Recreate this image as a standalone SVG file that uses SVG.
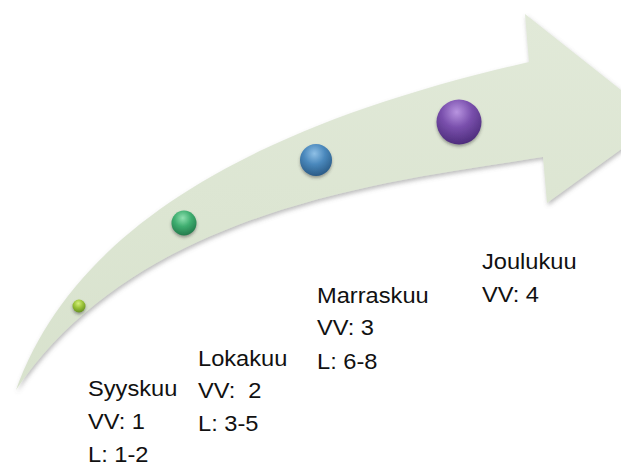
<svg xmlns="http://www.w3.org/2000/svg" width="621" height="466" viewBox="0 0 621 466">
  <style>
    .lbl { font-family: "Liberation Sans", Arial, sans-serif; font-size: 21.5px; fill: #111; white-space: pre; }
  </style>
  <defs>
    <linearGradient id="arrowFill" x1="0" y1="0" x2="0" y2="1">
      <stop offset="0" stop-color="#e1e9d8"/>
      <stop offset="1" stop-color="#d8e2cd"/>
    </linearGradient>
    <filter id="arrowShadow" x="-10%" y="-10%" width="120%" height="130%">
      <feDropShadow dx="1" dy="2.5" stdDeviation="2" flood-color="#6b6b6b" flood-opacity="0.45"/>
    </filter>
    <filter id="ballShadow" x="-50%" y="-50%" width="200%" height="220%">
      <feDropShadow dx="0" dy="2" stdDeviation="1.6" flood-color="#3a3a3a" flood-opacity="0.45"/>
    </filter>
    <radialGradient id="gYellow" cx="0.45" cy="0.3" r="0.75">
      <stop offset="0" stop-color="#d4ef7c"/>
      <stop offset="0.45" stop-color="#9cc43a"/>
      <stop offset="1" stop-color="#5f8a1c"/>
    </radialGradient>
    <radialGradient id="gGreen" cx="0.45" cy="0.3" r="0.75">
      <stop offset="0" stop-color="#8fe0b0"/>
      <stop offset="0.45" stop-color="#3fae70"/>
      <stop offset="1" stop-color="#1f7447"/>
    </radialGradient>
    <radialGradient id="gBlue" cx="0.45" cy="0.3" r="0.75">
      <stop offset="0" stop-color="#8fc0e6"/>
      <stop offset="0.45" stop-color="#4a88bc"/>
      <stop offset="1" stop-color="#26557f"/>
    </radialGradient>
    <radialGradient id="gPurple" cx="0.45" cy="0.28" r="0.75">
      <stop offset="0" stop-color="#b894e0"/>
      <stop offset="0.45" stop-color="#7a50ad"/>
      <stop offset="1" stop-color="#4a2a78"/>
    </radialGradient>
  </defs>

  <!-- curved timeline arrow -->
  <g id="connectors">
    <path filter="url(#arrowShadow)" fill="url(#arrowFill)"
      d="M16,390 C70,240 230,130 529,62 L525,14 L660,121 L547,203 L543,157 C400,180 140,205 16,390 Z"/>
  </g>

  <g id="syyskuu">
    <circle cx="79" cy="306" r="6.5" fill="url(#gYellow)" filter="url(#ballShadow)"/>
    <g transform="translate(88,0) scale(1.1,1)">
      <text class="lbl" x="0" y="396.5">Syyskuu</text>
      <text class="lbl" x="0" y="429.5">VV: 1</text>
      <text class="lbl" x="0" y="462">L: 1-2</text>
    </g>
  </g>

  <g id="lokakuu">
    <circle cx="184" cy="223" r="12.5" fill="url(#gGreen)" filter="url(#ballShadow)"/>
    <g transform="translate(198,0) scale(1.1,1)">
      <text class="lbl" x="0" y="366">Lokakuu</text>
      <text class="lbl" x="0" y="398.5">VV:  2</text>
      <text class="lbl" x="0" y="431">L: 3-5</text>
    </g>
  </g>

  <g id="marraskuu">
    <circle cx="316" cy="160" r="16" fill="url(#gBlue)" filter="url(#ballShadow)"/>
    <g transform="translate(317,0) scale(1.1,1)">
      <text class="lbl" x="0" y="303.5">Marraskuu</text>
      <text class="lbl" x="0" y="335.5">VV: 3</text>
      <text class="lbl" x="0" y="369">L: 6-8</text>
    </g>
  </g>

  <g id="joulukuu">
    <circle cx="459" cy="122" r="22.5" fill="url(#gPurple)" filter="url(#ballShadow)"/>
    <g transform="translate(482,0) scale(1.1,1)">
      <text class="lbl" x="0" y="269.5">Joulukuu</text>
      <text class="lbl" x="0" y="302.5">VV: 4</text>
    </g>
  </g>
</svg>
